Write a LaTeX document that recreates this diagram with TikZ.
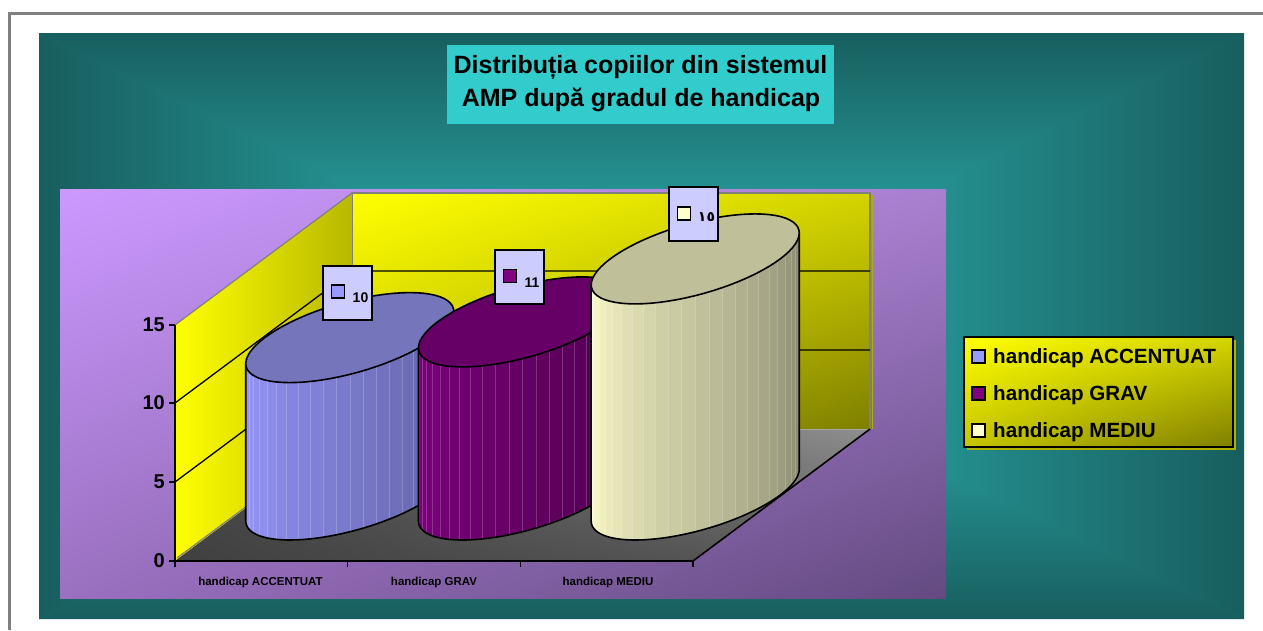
\documentclass[tikz,border=0pt]{standalone}
\usepackage{fontspec}
\setmainfont{Liberation Sans}
\newfontfamily\arabicfont[Script=Arabic]{DejaVu Sans}
\usetikzlibrary{shadings}
\definecolor{frameGray}{HTML}{808080}
\definecolor{tealD}{HTML}{185E5E}
\definecolor{tealC}{HTML}{30BEBE}
\definecolor{titleCyan}{HTML}{33CCCC}
\definecolor{plotUL}{HTML}{CC99FF}
\definecolor{plotUR}{HTML}{A880D0}
\definecolor{plotLL}{HTML}{9A70C0}
\definecolor{plotLR}{HTML}{634A80}
\definecolor{wallUL}{HTML}{FFFF00}
\definecolor{wallUR}{HTML}{D4D400}
\definecolor{wallLL}{HTML}{C4C400}
\definecolor{wallLR}{HTML}{7F7F00}
\definecolor{lwallL}{HTML}{FFFF00}
\definecolor{lwallR}{HTML}{B8B800}
\definecolor{floorLL}{HTML}{404040}
\definecolor{floorLR}{HTML}{5A5A5A}
\definecolor{floorUL}{HTML}{484848}
\definecolor{floorUR}{HTML}{8E8E8E}
\definecolor{lavender}{HTML}{CCCCFF}
\definecolor{legShadow}{HTML}{B0B000}
\definecolor{barAL}{HTML}{9999FF}
\definecolor{barAD}{HTML}{5A5A98}
\definecolor{barAT}{HTML}{7575BB}
\definecolor{barBL}{HTML}{800080}
\definecolor{barBD}{HTML}{4A004A}
\definecolor{barBT}{HTML}{660066}
\definecolor{barCL}{HTML}{FFFFCC}
\definecolor{barCD}{HTML}{888870}
\definecolor{barCT}{HTML}{BFBF99}
\newcommand\cylbar[6]{%
  \foreach \i in {0,...,23}{%
    \pgfmathsetmacro\ta{215.2+7.5*\i}%
    \pgfmathsetmacro\tb{\ta+7.5}%
    \pgfmathtruncatemacro\pp{100-100*\i/23}%
    \fill[#4!\pp!#5] ({#1+85*cos(\ta)+60*sin(\ta)},{#2-45*sin(\ta)}) -- ({#1+85*cos(\tb)+60*sin(\tb)},{#2-45*sin(\tb)}) -- ({#1+85*cos(\tb)+60*sin(\tb)},{#2-#3-45*sin(\tb)}) -- ({#1+85*cos(\ta)+60*sin(\ta)},{#2-#3-45*sin(\ta)}) -- cycle;
    \draw[#4!\pp!#5!80!white, line width=0.5] ({#1+85*cos(\ta)+60*sin(\ta)},{#2-45*sin(\ta)}) -- ({#1+85*cos(\ta)+60*sin(\ta)},{#2-#3-45*sin(\ta)});
  }
  \draw[barline] ({#1+85*cos(215.2)+60*sin(215.2)},{#2-#3-45*sin(215.2)}) -- plot[domain=215.2:395.2,samples=49,variable=\t] ({#1+85*cos(\t)+60*sin(\t)},{#2-45*sin(\t)}) -- ({#1+85*cos(395.2)+60*sin(395.2)},{#2-#3-45*sin(395.2)});
  \filldraw[barline, fill=#6] plot[domain=0:360,samples=73,variable=\t] ({#1+85*cos(\t)+60*sin(\t)},{#2-#3-45*sin(\t)}) -- cycle;
}
\begin{document}
\begin{tikzpicture}[x=1pt,y=-1pt,
  barline/.style={draw=black, line width=1.6, line join=round},
  grid/.style={black, line width=1.3},
  wedge/.style={frameGray, line width=1.2},
  lblbox/.style={draw=black, line width=1.5, fill=lavender, minimum width=49, minimum height=54, inner sep=0},
  keysq/.style={draw=black, line width=1.4, minimum width=13, minimum height=13, inner sep=0},
  lblnum/.style={font=\bfseries\fontsize{14}{16}\selectfont, inner sep=0},
  axnum/.style={font=\bfseries\fontsize{20}{22}\selectfont, inner sep=0, anchor=east},
  catlbl/.style={font=\bfseries\fontsize{11.5}{13}\selectfont, inner sep=0, anchor=base},
  legtxt/.style={font=\bfseries\fontsize{20.6}{23}\selectfont, inner sep=0, anchor=base west},
  ttl/.style={font=\bfseries\fontsize{25}{30}\selectfont, inner sep=0, anchor=base}]
\useasboundingbox (0,0) rectangle (1263,630);
\fill[white] (0,0) rectangle (1263,630);
% outer frame
\draw[frameGray, line width=3] (9.5,630) -- (9.5,13.5) -- (1263,13.5);
% teal panel, rectangular gradient from centre
\fill[tealD!50!tealC] (39,33) rectangle (1244,619);
\shade[top color=tealD, bottom color=tealC] (39,33) -- (1244,33) -- (641.5,326) -- cycle;
\shade[top color=tealC, bottom color=tealD] (39,619) -- (1244,619) -- (641.5,326) -- cycle;
\shade[left color=tealD, right color=tealC] (39,33) -- (39,619) -- (641.5,326) -- cycle;
\shade[left color=tealC, right color=tealD] (1244,33) -- (1244,619) -- (641.5,326) -- cycle;
% title
\node[fill=titleCyan, minimum width=387, minimum height=79, inner sep=0] (titlebox) at (640.5,84.5) {};
\node[ttl] (title1) at (640.5,73) {Distribuția copiilor din sistemul};
\node[ttl] (title2) at (641,106) {AMP după gradul de handicap};
% plot area
\shade[upper left=plotUL, upper right=plotUR, lower left=plotLL, lower right=plotLR] (60,189) rectangle (946,598);
% back wall
\shade[upper left=wallUL, upper right=wallUR, lower left=wallLL, lower right=wallLR] (352,193) rectangle (870,429);
\draw[wedge] (352,429) -- (352,193) -- (870,193) -- (870,429);
\draw[legShadow, line width=1.2] (872.5,195) -- (872.5,429);
% left wall
\shade[left color=lwallL, right color=lwallR] (175,325) -- (352,193) -- (352,429) -- (175,561) -- cycle;
\draw[wedge] (175,325) -- (352,193);
% floor
\shade[upper left=floorUL, upper right=floorUR, lower left=floorLL, lower right=floorLR] (175,561) -- (352,429) -- (870,429) -- (693,561) -- cycle;
\draw[wedge] (177,558) -- (352,428);
\draw[frameGray!70!white, line width=1] (352,429) -- (870,429);
% grid lines
\draw[grid] (175,403) -- (352,271) -- (870,271);
\draw[grid] (175,482) -- (352,350) -- (870,350);
% axes
\draw[black, line width=1.6] (175,325) -- (175,561) -- (693,561) -- (870,429);
\foreach \yy in {325,403,482,561} \draw[black, line width=1.4] (169,\yy) -- (175,\yy);
\foreach \xx in {175,347.7,520.3,693} \draw[black, line width=1.4] (\xx,561) -- (\xx,567);
\node[axnum] (ax15) at (165,325) {15};
\node[axnum] (ax10) at (165,403) {10};
\node[axnum] (ax5) at (165,482) {5};
\node[axnum] (ax0) at (165,561) {0};
\node[catlbl] (cat1) at (260.5,585) {handicap ACCENTUAT};
\node[catlbl] (cat2) at (434,585) {handicap GRAV};
\node[catlbl] (cat3) at (608,585) {handicap MEDIU};
% bars
\cylbar{349.8}{495}{157.4}{barAL}{barAD}{barAT}
\cylbar{522.5}{495}{173.1}{barBL}{barBD}{barBT}
\cylbar{695.2}{495}{236.1}{barCL}{barCD}{barCT}
% data labels
\node[lblbox] (lab1) at (347.5,293) {};
\node[keysq, fill=barAL] (lab1key) at (338,291.5) {};
\node[lblnum] (lab1num) at (360.5,297.5) {10};
\node[lblbox] (lab2) at (519.5,277) {};
\node[keysq, fill=barBL] (lab2key) at (510,276) {};
\node[lblnum] (lab2num) at (532,283) {11};
\node[lblbox] (lab3) at (693.5,214) {};
\node[keysq, fill=barCL] (lab3key) at (684,213.5) {};
\node[lblnum, font=\arabicfont\bfseries\fontsize{14}{16}\selectfont] (lab3num) at (706.5,217) {١٥};
% legend
\fill[legShadow] (966.5,339.5) rectangle (1235.5,449.5);
\shade[upper left=wallUL, upper right=wallUR, lower left=wallLL, lower right=wallLR] (964,337) rectangle (1233,447);
\node[draw=black, line width=2, minimum width=269, minimum height=110, inner sep=0] (legend) at (1098.5,392) {};
\node[keysq, fill=barAL] (leg1key) at (978.5,356.5) {};
\node[keysq, fill=barBL] (leg2key) at (978.5,393.5) {};
\node[keysq, fill=barCL] (leg3key) at (978.5,430.5) {};
\node[legtxt] (leg1) at (993,363) {handicap ACCENTUAT};
\node[legtxt] (leg2) at (993,400) {handicap GRAV};
\node[legtxt] (leg3) at (993,437) {handicap MEDIU};
\end{tikzpicture}
\end{document}
